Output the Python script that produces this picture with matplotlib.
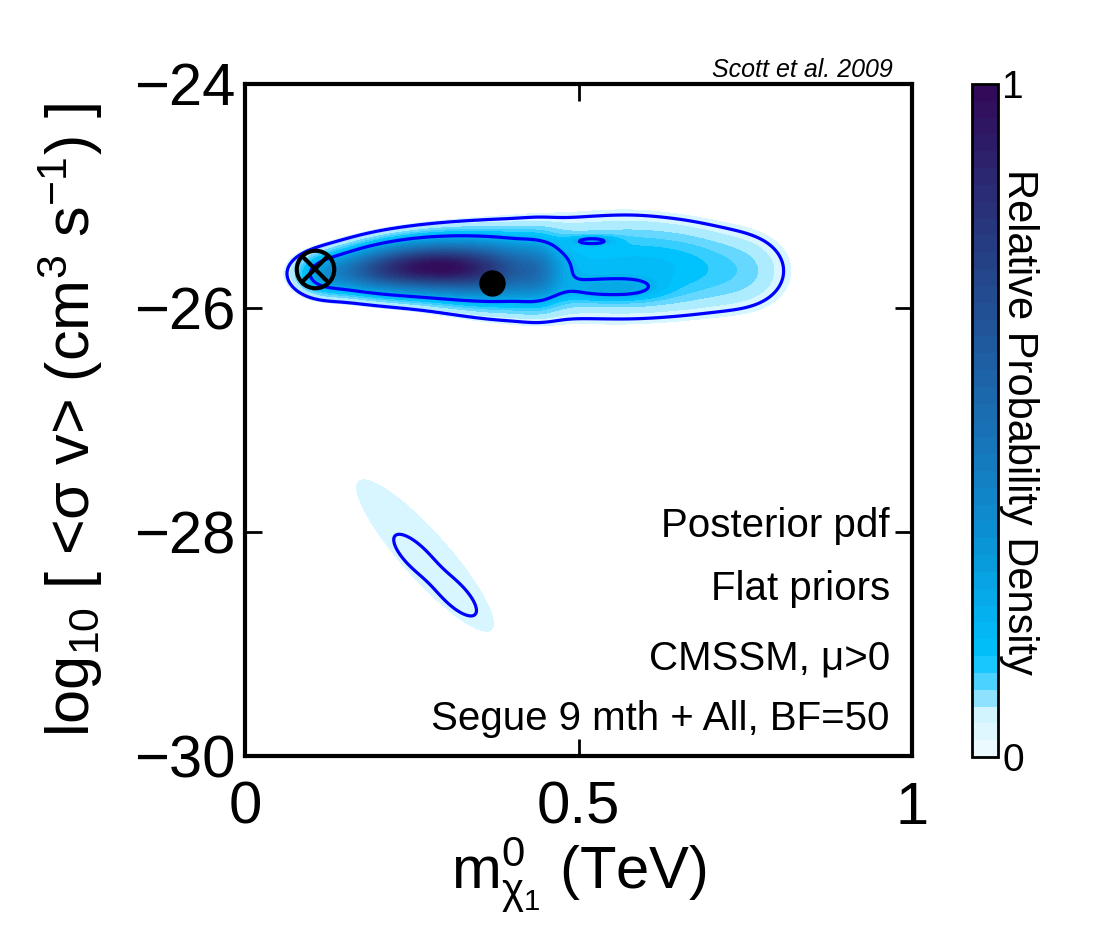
import numpy as np
import matplotlib
matplotlib.use("Agg")
import matplotlib.pyplot as plt
from matplotlib.colors import LinearSegmentedColormap, Normalize
from matplotlib.cm import ScalarMappable

plt.rcParams["font.family"] = ["Liberation Sans", "DejaVu Sans"]
plt.rcParams["mathtext.fontset"] = "custom"
plt.rcParams["mathtext.rm"] = "Liberation Sans"
plt.rcParams["mathtext.it"] = "Liberation Sans:italic"
plt.rcParams["mathtext.bf"] = "Liberation Sans:bold"

# ---- plot ranges ----
x_range = [0.0, 1.0]          # neutralino mass (TeV)
y_range = [-30.0, -24.0]      # log10 <sigma v>
x_ticks = [0, 0.5, 1]
x_tick_labels = ["0", "0.5", "1"]
y_ticks = [-30, -28, -26, -24]

# ---- posterior density: sum of Gaussian components ----
# centres in data units, widths in axis-fraction units, angle in degrees
comp_x = [0.115, 0.16, 0.22, 0.28, 0.34, 0.40, 0.44,          # main ridge
          0.34, 0.42, 0.50, 0.58, 0.66, 0.75,                 # high-mass plateau
          0.52, 0.58,                                         # low tongue
          0.52,                                               # small island
          0.27,                                               # low-<sigma v> branch
          0.255, 0.315]                                       # branch core
comp_y = [-25.72, -25.68, -25.645, -25.63, -25.645, -25.67, -25.68,
          -25.66, -25.65, -25.64, -25.63, -25.64, -25.67,
          -25.83, -25.83,
          -25.40,
          -28.21,
          -28.21, -28.56]
comp_su = [0.025, 0.045, 0.045, 0.045, 0.045, 0.045, 0.022,
           0.05, 0.05, 0.05, 0.05, 0.05, 0.05,
           0.035, 0.035,
           0.025,
           0.143,
           0.034, 0.034]
comp_sv = [0.0183, 0.020, 0.0233, 0.025, 0.0267, 0.030, 0.030,
           0.040, 0.0433, 0.0467, 0.0467, 0.0433, 0.0417,
           0.0117, 0.0117,
           0.0050,
           0.033,
           0.013, 0.013]
comp_angle = [0, 0, 0, 0, 0, 0, 0,
              0, 0, 0, 0, 0, 0,
              0, 0,
              0,
              -48,
              -44.5, -44.5]
# weight in the shaded posterior and in the credible-region outline field
comp_fill = [0.10, 0.26, 0.44, 0.53, 0.44, 0.26, 0.14,
             0.05, 0.08, 0.088, 0.10, 0.096, 0.07,
             0.08, 0.08,
             0.11,
             0.048,
             0.0, 0.0]
comp_line = [0.10, 0.26, 0.44, 0.53, 0.44, 0.26, 0.14,
             0.05, 0.08, 0.088, 0.10, 0.096, 0.07,
             0.08, 0.08,
             0.11,
             0.0,
             0.08, 0.08]

cred_levels = [0.04, 0.2]      # 95% and 68% credible contours (relative density)

best_fit = (0.105, -25.65)
post_mean = (0.370, -25.777)

info_lines = ["Posterior pdf", "Flat priors", "CMSSM, \u03bc>0",
              "Segue 9 mth + All, BF=50"]
ref_text = "Scott et al. 2009"

# ---- colour map: white -> cyan -> blue -> purple ----
cmap_nodes = [0.0, 0.055, 0.09, 0.14, 0.32, 0.5, 0.7, 0.85, 1.0]
cmap_colors = ["#eafaff", "#d0f4ff", "#66d8ff", "#00c2fc", "#0b92d4",
               "#1a6fb3", "#234a8e", "#2a2c74", "#320a5a"]
cmap = LinearSegmentedColormap.from_list("pdf", list(zip(cmap_nodes, cmap_colors)))


def density(weights, X, Y):
    yspan = y_range[1] - y_range[0]
    U = X
    V = (Y - y_range[0]) / yspan
    total = np.zeros_like(X)
    for cx, cy, su, sv, ang, w in zip(comp_x, comp_y, comp_su, comp_sv,
                                      comp_angle, weights):
        if w == 0:
            continue
        du = U - cx
        dv = V - (cy - y_range[0]) / yspan
        t = np.deg2rad(ang)
        p = du * np.cos(t) + dv * np.sin(t)
        q = -du * np.sin(t) + dv * np.cos(t)
        total += w * np.exp(-0.5 * ((p / su) ** 2 + (q / sv) ** 2))
    return total


xg = np.linspace(x_range[0], x_range[1], 500)
yg = np.linspace(y_range[0], y_range[1], 500)
X, Y = np.meshgrid(xg, yg)
raw_fill = density(comp_fill, X, Y)
raw_line = density(comp_line, X, Y)
scale = raw_fill.max()
F = raw_fill / scale
L = raw_line / scale

W, H = 1109, 942
fig = plt.figure(figsize=(W / 100, H / 100), dpi=100)
ax = fig.add_axes([245 / W, 1 - 756 / H, 667 / W, 672 / H])
cax = fig.add_axes([972 / W, 1 - 757 / H, 26 / W, 673 / H])

norm = Normalize(0, 1)
fill_levels = np.linspace(0.03, 1.0, 40)
fill_levels[-1] = 1.001
ax.contourf(X, Y, F, levels=fill_levels, cmap=cmap, norm=norm)
ax.contour(X, Y, L, levels=cred_levels, colors="#0000ff", linewidths=2.3)

ax.plot(*best_fit, marker="o", ms=27, mfc="none", mec="black", mew=3, zorder=5)
ax.plot(*best_fit, marker="x", ms=19, mec="black", mew=3, zorder=5)
ax.plot(*post_mean, marker="o", ms=18, mfc="black", mec="black", zorder=5)

ax.set_xlim(x_range)
ax.set_ylim(y_range)
ax.set_xticks(x_ticks)
ax.set_xticklabels(x_tick_labels)
ax.set_yticks(y_ticks)
ax.tick_params(direction="in", length=12, width=2, top=True, right=True,
               labelsize=43)
ax.tick_params(axis="x", pad=18)
ax.tick_params(axis="y", pad=7)
for sp in ax.spines.values():
    sp.set_linewidth(3)

ax.set_xlabel(r"$\mathregular{m^{0}_{\chi_1}}$ (TeV)", fontsize=43, labelpad=0)
ax.set_ylabel(r"log$_{10}$ [ <σ v> (cm$^{3}$ s$^{-1}$) ]", fontsize=44)
ax.yaxis.set_label_coords(-0.21, 0.5)

info_y = [0.326, 0.232, 0.129, 0.0387]
for txt, yy in zip(info_lines, info_y):
    ax.text(0.967, yy, txt, transform=ax.transAxes, ha="right", va="baseline",
            fontsize=29)
ax.text(0.9715, 1.0104, ref_text, transform=ax.transAxes, ha="right",
        va="baseline", fontsize=18, style="italic")

cmap_bar = cmap.resampled(40)
cb = fig.colorbar(ScalarMappable(norm=norm, cmap=cmap_bar), cax=cax, ticks=[0, 1])
cb.ax.tick_params(length=0, labelsize=28, pad=3)
cb.ax.set_yticklabels(["0", "1"])
cb.outline.set_linewidth(2)
fig.text(999 / W, 1 - 422 / H, "Relative Probability Density", rotation=270,
         ha="left", va="center", fontsize=30)

fig.savefig("out.png", dpi=100)
